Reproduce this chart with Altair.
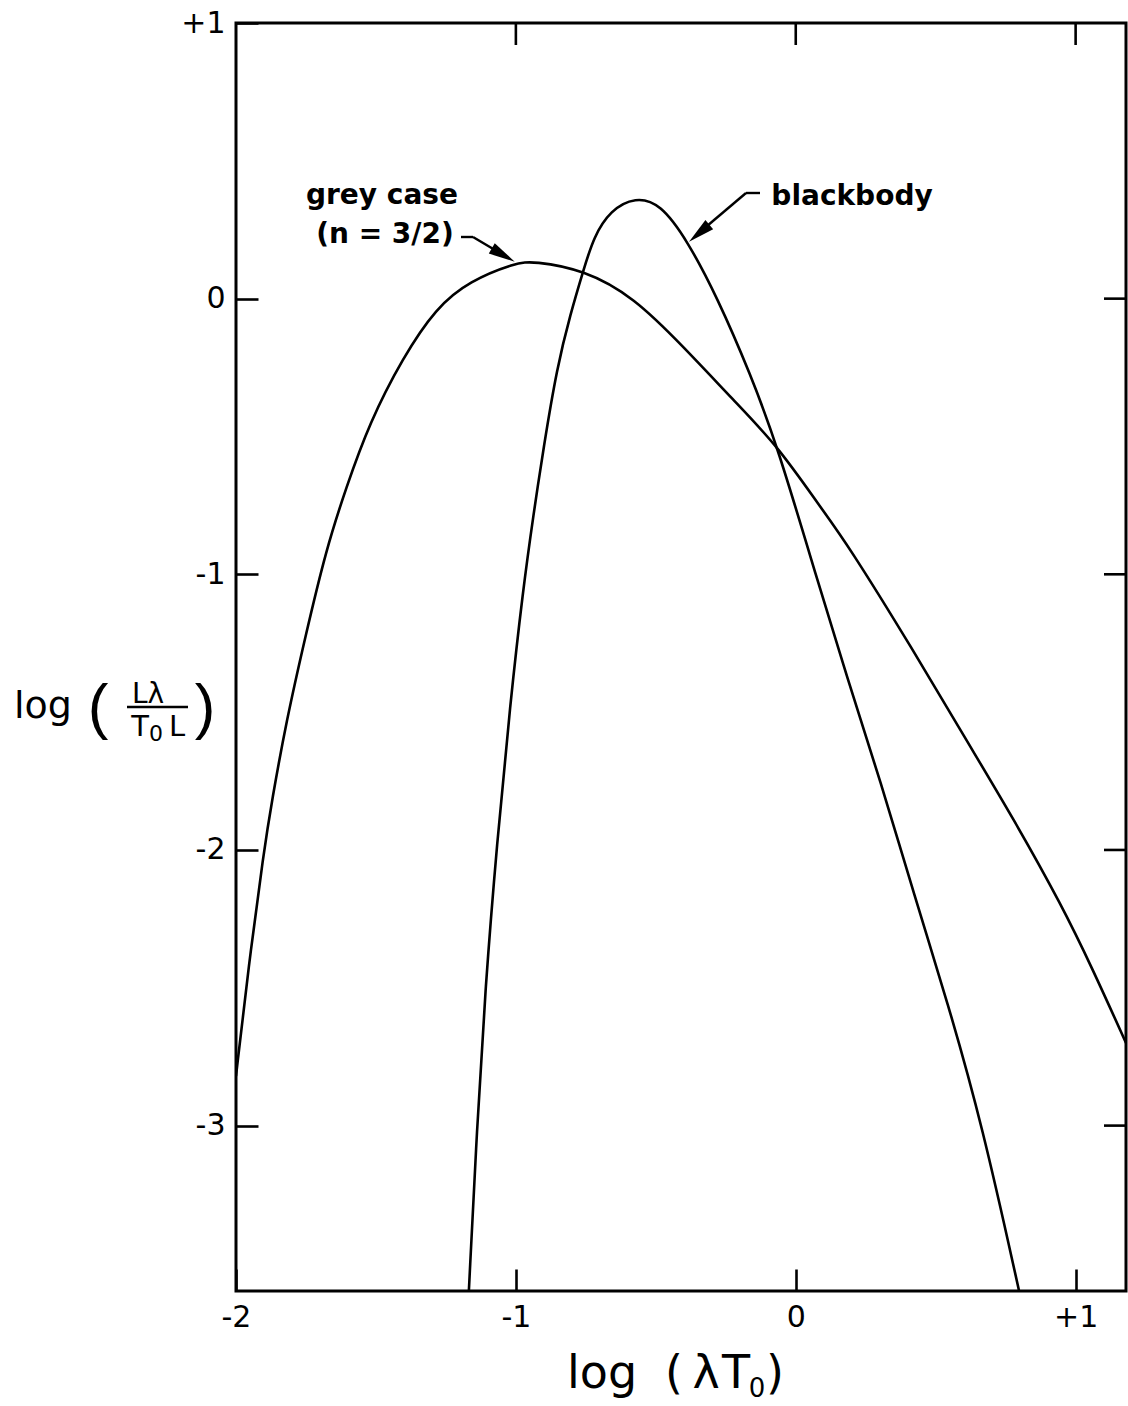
import altair as alt
import pandas as pd

# log(lambda T0) / log(L_lambda / (T0 L)) for the grey (n = 3/2) atmosphere
grey_log_lt = [-2.0, -1.956, -1.9, -1.872, -1.821, -1.750, -1.678, -1.607, -1.523,
               -1.404, -1.285, -1.166, -1.0, -0.937, -0.758, -0.579, -0.400, -0.221,
               -0.066, 0.089, 0.184, 0.422, 0.601, 0.78, 0.95, 1.06, 1.18]
grey_log_l = [-2.82, -2.43, -2.0, -1.824, -1.536, -1.216, -0.91, -0.687, -0.45,
              -0.214, -0.033, 0.064, 0.130, 0.136, 0.105, 0.006, -0.176, -0.370,
              -0.533, -0.758, -0.889, -1.279, -1.587, -1.89, -2.2, -2.43, -2.70]

# same quantities for a blackbody
bb_log_lt = [-1.168, -1.139, -1.109, -1.068, -1.020, -0.975, -0.937, -0.901, -0.853,
             -0.805, -0.758, -0.722, -0.662, -0.573, -0.484, -0.388, -0.281, -0.162,
             -0.066, 0.077, 0.184, 0.303, 0.425, 0.542, 0.667, 0.798]
bb_log_l = [-3.6, -3.011, -2.496, -1.98, -1.467, -1.06, -0.782, -0.54, -0.249,
            -0.055, 0.105, 0.224, 0.321, 0.369, 0.345, 0.212, 0.006, -0.273,
            -0.533, -1.02, -1.376, -1.75, -2.17, -2.55, -3.0, -3.6]

x_ticks = [-2, -1, 0, 1]
x_tick_labels = ["-2", "-1", "0", "+1"]
y_ticks = [-3, -2, -1, 0, 1]
y_tick_labels = ["-3", "-2", "-1", "0", "+1"]
top_ticks = [-1, 0, 1]
right_ticks = [-3, -2, -1, 0]

X_DOMAIN = [-2, 1.18]
Y_DOMAIN = [-3.6, 1]
W, H = 890, 1268
TICK = 22
FONT = "DejaVu Sans"
INK = "black"


def label_expr(values, labels):
    expr = "''"
    for v, lab in reversed(list(zip(values, labels))):
        expr = f"datum.value == {v} ? '{lab}' : ({expr})"
    return expr


xscale = alt.Scale(domain=X_DOMAIN, nice=False, zero=False)
yscale = alt.Scale(domain=Y_DOMAIN, nice=False, zero=False)

# ticks drawn inward: the axis line is pulled inside the frame by the tick length
axis_style = dict(
    offset=-TICK, tickSize=TICK, tickWidth=2.6, tickColor=INK,
    domain=False, grid=False, labelFont=FONT, labelFontSize=30,
    labelColor=INK, labelPadding=11, labelFlush=False, labelOverlap=False,
    title="")
xaxis = alt.Axis(values=x_ticks, labelExpr=label_expr(x_ticks, x_tick_labels),
                 **axis_style)
yaxis = alt.Axis(values=y_ticks, labelExpr=label_expr(y_ticks, y_tick_labels),
                 **axis_style)

curves = pd.concat([
    pd.DataFrame({"lx": grey_log_lt, "ly": grey_log_l, "curve": "grey case"}),
    pd.DataFrame({"lx": bb_log_lt, "ly": bb_log_l, "curve": "blackbody"}),
])

lines = alt.Chart(curves).mark_line(
    color=INK, strokeWidth=2.6, interpolate="basis", clip=True
).encode(
    x=alt.X("lx:Q", scale=xscale, axis=xaxis),
    y=alt.Y("ly:Q", scale=yscale, axis=yaxis),
    detail="curve:N",
)

# inward ticks on the top and right edges of the frame
top_tick_marks = alt.Chart(pd.DataFrame({"lx": top_ticks})).mark_rule(
    color=INK, strokeWidth=2.6
).encode(
    x=alt.X("lx:Q", scale=xscale, axis=xaxis),
    y=alt.value(0), y2=alt.value(TICK),
)
right_tick_marks = alt.Chart(pd.DataFrame({"ly": right_ticks})).mark_rule(
    color=INK, strokeWidth=2.6
).encode(
    y=alt.Y("ly:Q", scale=yscale, axis=yaxis),
    x=alt.value(W - TICK), x2=alt.value(W),
)

one = pd.DataFrame({"k": [0]})


def text(s, x, y, size, weight="normal", font=FONT, align="center"):
    return alt.Chart(one).mark_text(
        text=s, font=font, fontSize=size, fontWeight=weight, color=INK,
        align=align, baseline="alphabetic"
    ).encode(x=alt.value(x), y=alt.value(y))


def seg(x1, y1, x2, y2, w=2.4):
    return alt.Chart(one).mark_rule(color=INK, strokeWidth=w).encode(
        x=alt.value(x1), y=alt.value(y1), x2=alt.value(x2), y2=alt.value(y2))


ARROW = "M0,-1L0.36,0.6L-0.36,0.6Z"


def head(x, y, angle, size=1100):
    return alt.Chart(one).mark_point(
        shape=ARROW, size=size, filled=True, color=INK, opacity=1, angle=angle
    ).encode(x=alt.value(x), y=alt.value(y))


labels = [
    text("grey case", 146, 181, 28, "bold"),
    text("(n = 3/2)", 149, 220, 28, "bold"),
    text("blackbody", 616, 182, 28, "bold"),
    seg(225, 214, 237, 214),
    seg(237, 214, 270, 233.5),
    head(264.4, 230.4, 120),
    seg(524, 170, 510, 170),
    seg(510, 170, 461, 211.5),
    head(465.7, 208.0, 229.8),
]

# vertical axis title: log ( L_lambda / (T0 L) )
y_title = [
    text("log", -193, 695, 38),
    text("(", -138, 704, 62, font="Liberation Sans"),
    text("Lλ", -88, 680, 28),
    seg(-109, 684, -48, 684, 2.4),
    text("T", -96, 713, 29),
    text("0", -80, 718, 22),
    text("L", -59, 713, 29),
    text(")", -31, 704, 62, font="Liberation Sans"),
]

# horizontal axis title: log (lambda T0)
x_title = [
    text("log", 331, 1365, 46, align="left"),
    text("(", 438, 1365, 46),
    text("λ", 470, 1365, 46),
    text("T", 500, 1365, 46),
    text("0", 521, 1374, 26),
    text(")", 539, 1365, 46),
]

chart = alt.layer(
    lines, top_tick_marks, right_tick_marks, *labels, *y_title, *x_title
).properties(
    width=W, height=H,
    padding={"left": 236, "top": 23, "right": 2, "bottom": 115},
    autosize=alt.AutoSizeParams(type="none"),
    background="white",
).configure_view(
    stroke=INK, strokeWidth=3
)

chart.save("out.html", embed_options={"renderer": "svg", "actions": False})
